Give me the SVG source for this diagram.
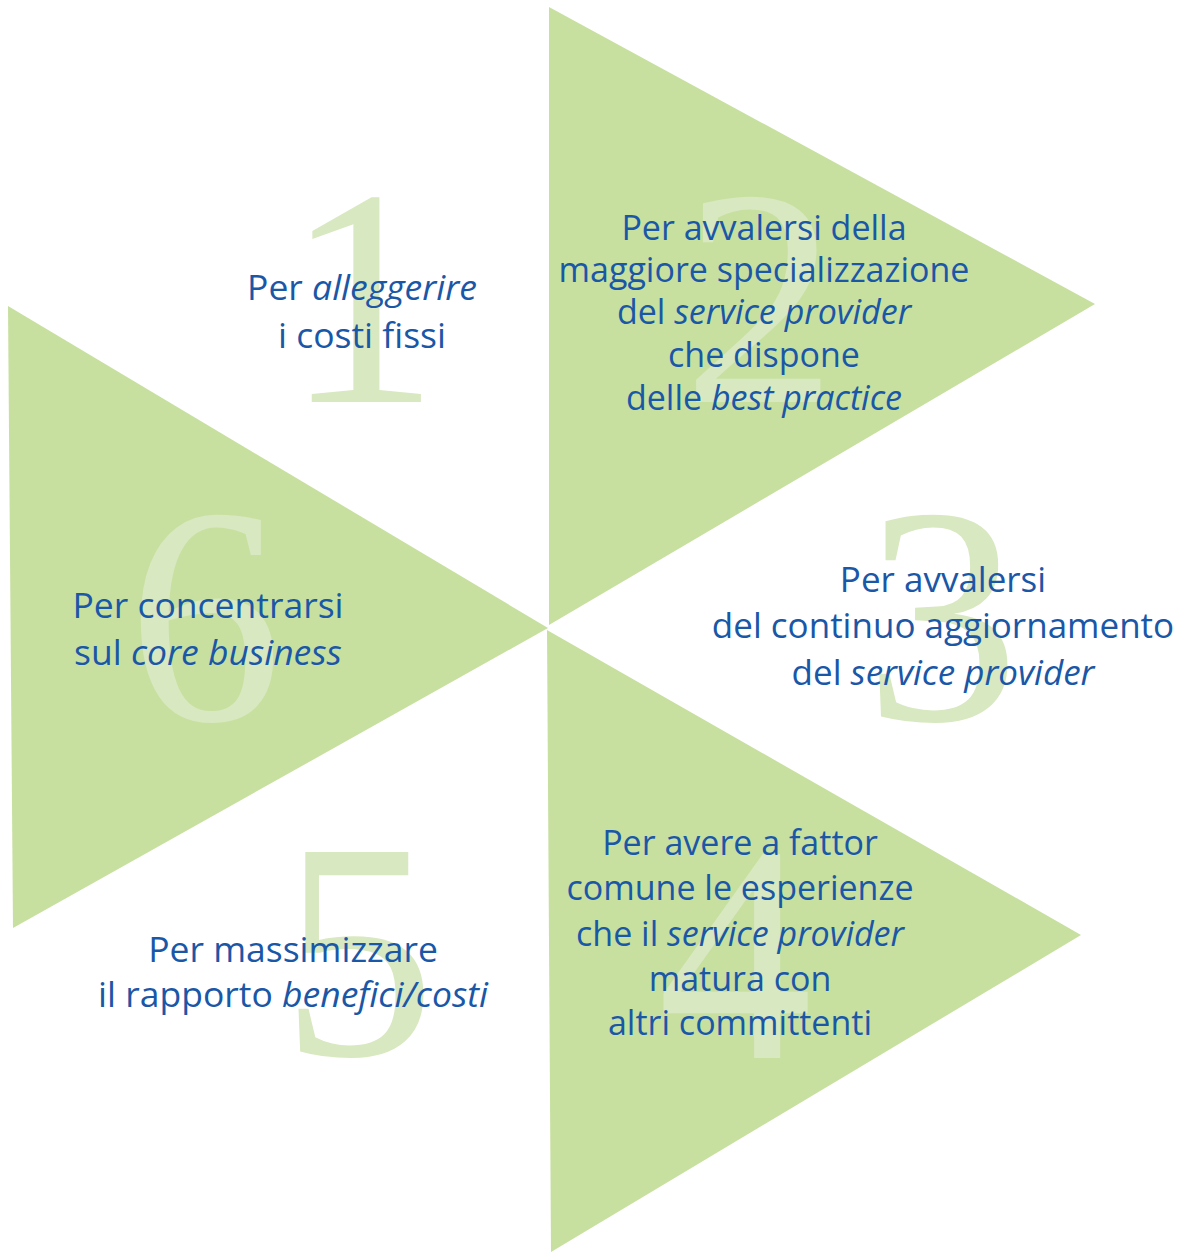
<svg xmlns="http://www.w3.org/2000/svg" width="1187" height="1252" viewBox="0 0 1187 1252">
<style>
.tri{fill:#c7e0a0}
.num{font-family:"Liberation Serif","Times New Roman",serif;font-size:310px;fill:#d8e8c0;text-anchor:middle}
.lbl{font-family:"Open Sans","Noto Sans",sans-serif;font-size:35.5px;font-weight:400;fill:#1a57a7;text-anchor:middle}
.sm{font-size:34px}
.md{font-size:35px}
.it{font-style:italic}
</style>
<rect width="1187" height="1252" fill="#ffffff"/>
<g id="triangles">
<polygon class="tri" points="549,7 1095,304 549,625"/>
<polygon class="tri" points="8,306 548,628 13,928"/>
<polygon class="tri" points="547,630 1081,935 551,1252"/>
</g>
<g id="n1">
<text class="num" x="362" y="402">1</text>
<text class="lbl" x="362" y="300">Per <tspan class="it">alleggerire</tspan></text>
<text class="lbl" x="362" y="348">i costi fissi</text>
</g>
<g id="n2">
<text class="num" x="760" y="402">2</text>
<text class="lbl sm" x="764" y="240">Per avvalersi della</text>
<text class="lbl sm" x="764" y="282">maggiore specializzazione</text>
<text class="lbl sm" x="764" y="324">del <tspan class="it">service provider</tspan></text>
<text class="lbl sm" x="764" y="367">che dispone</text>
<text class="lbl sm" x="764" y="410">delle <tspan class="it">best practice</tspan></text>
</g>
<g id="n3">
<text class="num" x="942" y="720">3</text>
<text class="lbl md" x="943" y="592">Per avvalersi</text>
<text class="lbl md" x="943" y="638">del continuo aggiornamento</text>
<text class="lbl md" x="943" y="685">del <tspan class="it">service provider</tspan></text>
</g>
<g id="n4">
<text class="num" x="735" y="1058">4</text>
<text class="lbl sm" x="740" y="855">Per avere a fattor</text>
<text class="lbl sm" x="740" y="900">comune le esperienze</text>
<text class="lbl sm" x="740" y="946">che il <tspan class="it">service provider</tspan></text>
<text class="lbl sm" x="740" y="991">matura con</text>
<text class="lbl sm" x="740" y="1035">altri committenti</text>
</g>
<g id="n5">
<text class="num" x="358" y="1055">5</text>
<text class="lbl" x="293" y="962">Per massimizzare</text>
<text class="lbl" x="293" y="1007">il rapporto <tspan class="it">benefici/costi</tspan></text>
</g>
<g id="n6">
<text class="num" x="205" y="720">6</text>
<text class="lbl" x="208" y="618">Per concentrarsi</text>
<text class="lbl" x="208" y="665">sul <tspan class="it">core business</tspan></text>
</g>
</svg>
